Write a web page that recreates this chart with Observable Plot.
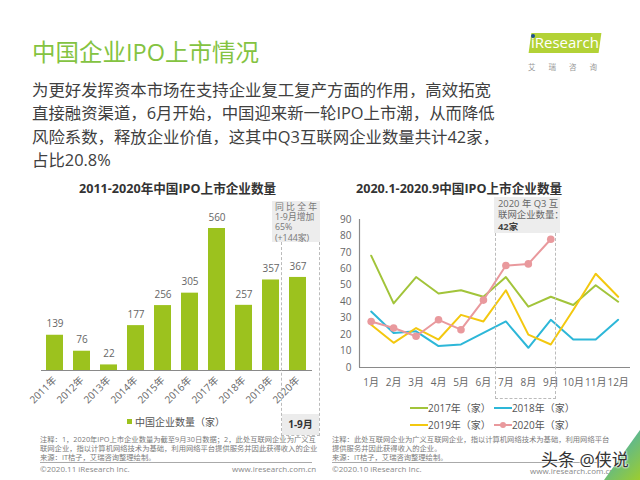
<!DOCTYPE html>
<html><head><meta charset="utf-8">
<script src="https://cdn.jsdelivr.net/npm/d3@7"></script>
<script src="https://cdn.jsdelivr.net/npm/@observablehq/plot@0.6"></script>
<style>
html,body{margin:0;padding:0;background:#fff;}
body{width:640px;height:480px;position:relative;overflow:hidden;font-family:'Open Sans','Noto Sans CJK SC',sans-serif;}
.abs{position:absolute;white-space:nowrap;}
</style></head>
<body>
<div class="abs" style="left:32px;top:37px;font-size:23.5px;line-height:30px;color:#84c341;">中国企业IPO上市情况</div>
<div class="abs" style="left:32px;top:78px;font-size:16.4px;line-height:23.3px;color:#404040;">为更好发挥资本市场在支持企业复工复产方面的作用，高效拓宽<br>直接融资渠道，6月开始，中国迎来新一轮IPO上市潮，从而降低<br>风险系数，释放企业价值，这其中Q3互联网企业数量共计42家，<br>占比20.8%</div>

<!-- logo -->
<div class="abs" style="left:530px;top:33px;width:70px;height:20px;background:#b3d236;transform:skewX(-8deg);"></div>
<div class="abs" style="left:531px;top:31px;font-size:15px;line-height:22px;color:#fff;font-family:'Open Sans',sans-serif;">iResearch</div>
<div class="abs" style="left:531px;top:34px;width:4px;height:4px;border-radius:2px;background:#1d4f91;"></div>
<div class="abs" style="left:528px;top:61px;font-size:7.5px;color:#999;letter-spacing:13px;">艾瑞咨询</div>

<div class="abs" style="left:79px;top:178px;font-size:12.6px;font-weight:bold;color:#333;">2011-2020年中国IPO上市企业数量</div>
<div class="abs" style="left:356px;top:178px;font-size:12.6px;font-weight:bold;color:#333;">2020.1-2020.9中国IPO上市企业数量</div>

<div id="left" class="abs" style="left:0;top:200px;"></div>
<div id="right" class="abs" style="left:320px;top:200px;"></div>

<!-- left annotation -->
<div class="abs" style="left:281px;top:242px;width:37px;height:193px;border:1px dashed #bbb;border-top:none;"></div>
<div class="abs" style="left:282px;top:414px;width:37px;height:21px;background:#ececec;font-size:10px;font-weight:bold;color:#333;text-align:center;line-height:21px;">1-9月</div>
<div class="abs" style="left:272px;top:201px;width:48px;height:41px;background:#ededed;"></div>
<div class="abs" style="left:275px;top:202px;font-size:8.8px;line-height:10.2px;color:#777;">同 比 全 年<br>1-9月增加<br>65%<br>(+144家)</div>

<!-- right annotation -->
<div class="abs" style="left:495px;top:233px;width:59px;height:165px;border:1px dashed #bbb;border-top:none;"></div>
<div class="abs" style="left:494px;top:197px;width:66px;height:36px;background:#ededed;"></div>
<div class="abs" style="left:498px;top:198px;font-size:9.4px;line-height:11.4px;color:#666;">2020 年 Q3 互<br>联网企业数量：<br><b style="color:#444">42家</b></div>

<!-- legends -->
<div class="abs" style="left:127px;top:415px;font-size:10px;line-height:14px;color:#555;"><span style="display:inline-block;width:5px;height:5px;background:#9cc21e;margin-right:3px;vertical-align:2px;"></span>中国企业数量（家）</div>
<div id="rlegend" class="abs" style="left:410px;top:400px;font-size:10px;line-height:17px;color:#555;"></div>

<!-- notes -->
<div class="abs" style="left:40px;top:435px;font-size:7.3px;line-height:9px;color:#7a7a7a;">注释：1，2020年IPO上市企业数量为截至9月30日数据；2，此处互联网企业为广义互<br>联网企业，指以计算机网络技术为基础，利用网络平台提供服务并因此获得收入的企业<br>来源：IT桔子，艾瑞咨询整理绘制。</div>
<div class="abs" style="left:40px;top:462px;width:272px;height:0;border-top:1px solid #aaa;"></div>
<div class="abs" style="left:40px;top:464px;font-size:8px;line-height:10px;color:#888;">©2020.11 iResearch Inc.</div>
<div class="abs" style="left:232px;top:464px;width:80px;text-align:right;font-size:8px;line-height:10px;color:#888;">www.iresearch.com.cn</div>

<div class="abs" style="left:332px;top:435px;font-size:7.3px;line-height:9px;color:#7a7a7a;">注释：此处互联网企业为广义互联网企业，指以计算机网络技术为基础，利用网络平台<br>提供服务并因此获得收入的企业。<br>来源：IT桔子，艾瑞咨询整理绘制。</div>
<div class="abs" style="left:332px;top:462px;width:268px;height:0;border-top:1px solid #aaa;"></div>
<div class="abs" style="left:332px;top:464px;font-size:8px;line-height:10px;color:#888;">©2020.10 iResearch Inc.</div>
<div class="abs" style="left:530px;top:466px;width:80px;text-align:right;font-size:8px;line-height:10px;color:#888;">www.iresearch.com.cn</div>

<div class="abs" style="left:600px;top:430px;width:40px;height:50px;background:linear-gradient(135deg,#2fa8d8,#9ccd2f);clip-path:polygon(100% 0,100% 100%,10% 100%);"></div>
<div class="abs" style="left:541px;top:449px;font-size:17px;line-height:22px;color:#333;text-shadow:0 0 2px #fff,0 0 2px #fff,0 0 2px #fff;">头条 @侠说</div>

<script>
const years = ["2011年","2012年","2013年","2014年","2015年","2016年","2017年","2018年","2019年","2020年"];
const ipoCounts = [139,76,22,177,256,305,560,257,357,367];

const monthNums = [1,2,3,4,5,6,7,8,9,10,11,12];
const monthLabels = ["1月","2月","3月","4月","5月","6月","7月","8月","9月","10月","11月","12月"];
const seriesNames = ["2017年（家）","2018年（家）","2019年（家）","2020年（家）"];
const s2017 = [68,39,55,45,47,43,55,37,43,38,50,40];
const s2018 = [34,21,22,13,14,21,28,12,29,17,17,29];
const s2019 = [26,15,24,17,32,28,47,20,14,35,57,43];
const s2020 = [28,24,19,29,23,41,62,63,78];
const seriesColors = ["#a2c43a","#2db7d8","#f3c80f","#e9999d"];
const yTicks = [0,10,20,30,40,50,60,70,80,90];

const font = "'Open Sans','Noto Sans CJK SC',sans-serif";

const barData = years.map((y,i)=>({year:y, value:ipoCounts[i]}));
const left = Plot.plot({
  width: 320, height: 215,
  marginLeft: 41, marginRight: 8, marginTop: 28, marginBottom: 45,
  style: {fontFamily: font, fontSize: "10px", color: "#666", background: "transparent", overflow: "visible"},
  x: {domain: years, paddingInner: 0.37, paddingOuter: 0.185},
  y: {domain: [0, 560], axis: null},
  marks: [
    Plot.barY(barData, {x: "year", y: "value", fill: "#9cc21e"}),
    Plot.text(barData, {x: "year", y: "value", text: d => String(d.value), dy: -11, fill: "#666", fontSize: 10}),
    Plot.ruleY([0], {stroke: "#8a8a8a", strokeWidth: 1.2}),
    Plot.axisX({tickRotate: -45, tickSize: 0, tickPadding: 8, label: null, fontSize: 10})
  ]
});
document.getElementById("left").appendChild(left);

const seriesArrays = [s2017, s2018, s2019, s2020];
const lineData = seriesArrays.flatMap((arr, k) => arr.map((v, i) => ({m: monthNums[i], v, s: seriesNames[k]})));
const dots2020 = s2020.map((v,i)=>({m: monthNums[i], v}));
const right = Plot.plot({
  width: 320, height: 200,
  marginLeft: 39, marginRight: 10, marginTop: 19, marginBottom: 33,
  style: {fontFamily: font, fontSize: "10px", color: "#666", background: "transparent", overflow: "visible"},
  x: {domain: [0.48, 12.55]},
  y: {domain: [0, 90]},
  color: {domain: seriesNames, range: seriesColors},
  marks: [
    Plot.ruleY([0], {stroke: "#8a8a8a", strokeWidth: 1.2}),
    Plot.ruleX([0.48], {y1: 0, y2: 90, stroke: "#8a8a8a", strokeWidth: 1.2}),
    Plot.line(lineData, {x: "m", y: "v", z: "s", stroke: "s", strokeWidth: 2}),
    Plot.dot(dots2020, {x: "m", y: "v", r: 3.8, fill: seriesColors[3]}),
    Plot.axisY({ticks: yTicks, tickSize: 0, tickPadding: 8, label: null, fontSize: 10}),
    Plot.axisX({ticks: monthNums, tickFormat: d => monthLabels[d-1], tickSize: 0, tickPadding: 11, label: null, fontSize: 10})
  ]
});
document.getElementById("right").appendChild(right);

const leg = document.getElementById("rlegend");
const rows = [[0,1],[2,3]];
leg.innerHTML = rows.map(r => r.map(k => {
  const dot = k === 3 ? `<span style="position:absolute;left:6px;top:-2px;width:6px;height:6px;border-radius:3px;background:${seriesColors[k]}"></span>` : "";
  return `<span style="display:inline-block;position:relative;width:18px;height:2px;background:${seriesColors[k]};vertical-align:3px;">${dot}</span>${seriesNames[k]}`;
}).join('<span style="display:inline-block;width:3px"></span>')).join("<br>");
</script>
</body></html>
